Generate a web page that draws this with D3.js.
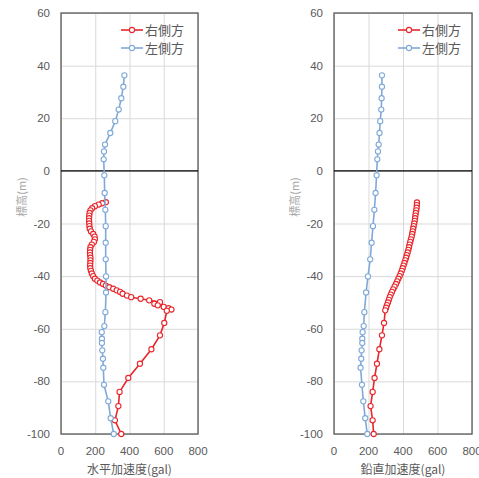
<!DOCTYPE html>
<html lang="ja">
<head>
    <meta charset="UTF-8">
    <title>標高と加速度</title>
    <script src="https://d3js.org/d3.v7.min.js"></script>
    <style>
        body { margin: 0; background: #fff; }
        .tick-label { font-family: "Liberation Sans", Arial, sans-serif; font-size: 11.5px; fill: #595959; }
        .jp { font-family: "Noto Sans CJK JP", sans-serif; }
    </style>
</head>
<body>
    <svg id="chart" width="479" height="478"></svg>

    <script>
        // axis ticks
        const yTicks = [60, 40, 20, 0, -20, -40, -60, -80, -100];
        const xTicks = [0, 200, 400, 600, 800];
        const seriesNames = ["右側方", "左側方"];

        // 左側方 (blue) - same depths in both panels
        const depthBlue = [36.3, 32, 27.6, 23.3, 18.9, 14.4, 10, 7.4, 4.4, -1.7, -8.4, -14.8, -21, -27.3, -33.6,
            -40.1, -46.2, -53.7, -59, -61.3, -63.8, -65.4, -68.2, -71.4, -74.8, -81.3, -87.6, -94, -100];
        const horizBlue = [370, 364, 352, 337, 317, 288, 257, 251, 249, 253, 255, 259, 261, 261, 261,
            263, 263, 259, 253, 238, 239, 239, 241, 245, 247, 251, 276, 290, 308];
        const vertBlue = [278, 278, 276, 274, 268, 264, 259, 255, 251, 247, 241, 234, 226, 218, 210,
            197, 186, 176, 172, 166, 164, 164, 160, 158, 154, 162, 170, 181, 193];

        // 右側方 (red) - horizontal
        const depthRedH = [-11.9, -12.3, -12.8, -13.4, -14.2, -15, -16, -17, -18, -19, -20, -21, -22, -23, -24,
            -25, -26, -27, -28, -29, -30, -31, -32, -33, -34, -35, -36, -37, -38, -39, -40, -41, -41.7, -42.4,
            -43, -43.6, -44.2, -44.8, -45.4, -46, -46.7, -47.4, -48, -48.6, -49.2, -49.9, -50.5, -51.1, -51.7,
            -52.2, -52.7, -53.2, -57.8, -62.5, -67.8, -73.3, -78.7, -84, -89.4, -94.8, -100];
        const horizRed = [262, 240, 220, 198, 182, 172, 167, 165, 164, 164, 165, 166, 168, 175, 188,
            196, 198, 192, 180, 172, 170, 169, 170, 172, 172, 171, 170, 171, 175, 180, 188, 198, 212, 228,
            245, 262, 282, 305, 325, 345, 360, 385, 410, 465, 515, 578, 545, 565, 600,
            628, 645, 618, 603, 578, 528, 461, 393, 342, 335, 315, 352];

        // 右側方 (red) - vertical
        const depthRedV = [-12, -13, -14, -15, -16, -17, -18, -19, -20, -21, -22, -23, -24, -25, -26, -27,
            -28, -29, -30, -31, -32, -33, -34, -35, -36, -37, -38, -39, -40, -41, -42, -43, -44, -45, -46,
            -47, -48, -49, -50, -51, -52, -53, -57.8, -62.5, -67.8, -73.3, -78.7, -84, -89.4, -94.8, -100];
        const vertRed = [481, 480, 479, 477, 474, 472, 470, 468, 465, 462, 459, 456, 453, 450, 446, 442,
            438, 435, 431, 427, 422, 418, 413, 408, 403, 398, 393, 387, 380, 373, 366, 359, 351, 343, 336,
            329, 323, 318, 313, 307, 302, 297, 290, 278, 263, 249, 235, 224, 212, 224, 230];

        const RED = "#e8262b", BLUE = "#7fa9d8";
        const plotTop = 13, plotBottom = 434;

        const svg = d3.select("#chart");

        const panels = [
            { left: 61, right: 198, xTitle: "水平加速度(gal)", red: horizRed, redDepth: depthRedH, blue: horizBlue, legendX: 121 },
            { left: 334, right: 472, xTitle: "鉛直加速度(gal)", red: vertRed, redDepth: depthRedV, blue: vertBlue, legendX: 398 }
        ];

        panels.forEach(drawPanel);

        function drawPanel(p) {
            const x = d3.scaleLinear().domain([0, 800]).range([p.left, p.right]);
            const y = d3.scaleLinear().domain([-100, 60]).range([plotBottom, plotTop]);
            const g = svg.append("g");

            // grid
            g.append("g")
                .attr("transform", `translate(0,${plotBottom})`)
                .call(d3.axisBottom(x).tickValues(xTicks).tickSize(-(plotBottom - plotTop)).tickFormat(""))
                .call(a => a.select(".domain").remove())
                .selectAll("line").attr("stroke", "#d9d9d9");
            g.append("g")
                .attr("transform", `translate(${p.left},0)`)
                .call(d3.axisLeft(y).tickValues(yTicks).tickSize(-(p.right - p.left)).tickFormat(""))
                .call(a => a.select(".domain").remove())
                .selectAll("line").attr("stroke", "#d9d9d9");

            // frame and zero line
            g.append("rect")
                .attr("x", p.left).attr("y", plotTop)
                .attr("width", p.right - p.left).attr("height", plotBottom - plotTop)
                .attr("fill", "none").attr("stroke", "#595959").attr("stroke-width", 1.3);
            g.append("line")
                .attr("x1", p.left).attr("x2", p.right)
                .attr("y1", y(0)).attr("y2", y(0))
                .attr("stroke", "#000").attr("stroke-width", 1.2);

            // tick labels
            g.selectAll(".ylab").data(yTicks).enter().append("text")
                .attr("class", "tick-label")
                .attr("x", p.left - 11).attr("y", d => y(d))
                .attr("dy", "0.35em").attr("text-anchor", "end")
                .text(d => d);
            g.selectAll(".xlab").data(xTicks).enter().append("text")
                .attr("class", "tick-label")
                .attr("x", d => x(d)).attr("y", plotBottom + 17)
                .attr("dy", "0.35em").attr("text-anchor", "middle")
                .text(d => d);

            // axis titles
            g.append("text")
                .attr("class", "jp")
                .attr("transform", `translate(${p.left - 39},197) rotate(-90)`)
                .attr("text-anchor", "middle").attr("dy", "0.35em")
                .attr("font-size", 11).attr("fill", "#a6a6a6")
                .text("標高(m)");
            g.append("text")
                .attr("class", "jp")
                .attr("x", (p.left + p.right) / 2).attr("y", 470)
                .attr("text-anchor", "middle").attr("dy", "0.35em")
                .attr("font-size", 12).attr("fill", "#595959")
                .text(p.xTitle);

            // series: red first, blue drawn over it
            const redPts = p.red.map((v, i) => [v, p.redDepth[i]]);
            const bluePts = p.blue.map((v, i) => [v, depthBlue[i]]);
            drawSeries(g, redPts, RED, x, y);
            drawSeries(g, bluePts, BLUE, x, y);

            // legend
            [RED, BLUE].forEach((c, i) => {
                const ly = 30 + i * 18;
                g.append("line")
                    .attr("x1", p.legendX).attr("x2", p.legendX + 22)
                    .attr("y1", ly).attr("y2", ly)
                    .attr("stroke", c).attr("stroke-width", 1.6);
                g.append("circle")
                    .attr("cx", p.legendX + 11).attr("cy", ly).attr("r", 2.6)
                    .attr("fill", "#fff").attr("stroke", c).attr("stroke-width", 1.1);
                g.append("text")
                    .attr("class", "jp")
                    .attr("x", p.legendX + 24).attr("y", ly)
                    .attr("dy", "0.35em").attr("font-size", 13).attr("fill", "#595959")
                    .text(seriesNames[i]);
            });
        }

        function drawSeries(g, pts, color, x, y) {
            const line = d3.line().x(d => x(d[0])).y(d => y(d[1]));
            g.append("path")
                .datum(pts)
                .attr("d", line)
                .attr("fill", "none").attr("stroke", color).attr("stroke-width", 1.6);
            g.selectAll(null).data(pts).enter().append("circle")
                .attr("cx", d => x(d[0])).attr("cy", d => y(d[1]))
                .attr("r", 2.6)
                .attr("fill", "#fff").attr("stroke", color).attr("stroke-width", 1.1);
        }
    </script>
</body>
</html>
